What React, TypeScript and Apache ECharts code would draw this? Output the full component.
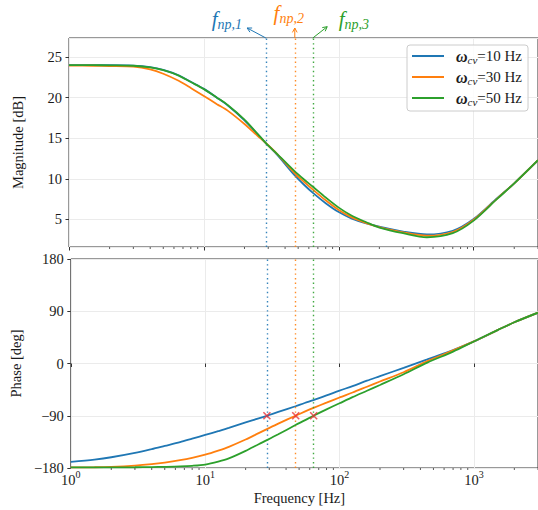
import { useEffect, useRef } from 'react';
import * as echarts from 'echarts';

const FONT = '"Liberation Serif", "Times New Roman", serif';

const freqs = [1, 1.5, 2, 3, 4, 5, 6.5, 8, 10, 12.5, 15, 20, 25, 28.8, 35, 47, 55, 64, 80, 100, 125, 160, 200, 300, 450, 700, 1000, 1500, 2000, 3000];

const magBlue = [24.0, 24.0, 24.0, 23.95, 23.76, 23.42, 22.76, 21.95, 21.08, 20.0, 19.05, 17.2, 15.5, 14.4, 12.95, 10.45, 9.3, 8.3, 7.0, 5.9, 5.1, 4.5, 4.1, 3.5, 3.15, 3.6, 5.05, 7.65, 9.45, 12.3];
const magOrange = [23.95, 23.93, 23.9, 23.82, 23.48, 22.95, 22.08, 21.2, 20.2, 19.2, 18.4, 16.75, 15.3, 14.4, 13.05, 10.7, 9.65, 8.7, 7.35, 6.15, 5.25, 4.55, 4.05, 3.4, 3.0, 3.45, 4.95, 7.6, 9.45, 12.3];
const magGreen = [24.0, 24.0, 23.98, 23.93, 23.72, 23.38, 22.72, 21.92, 21.05, 20.0, 19.1, 17.3, 15.55, 14.4, 13.05, 10.95, 9.95, 9.05, 7.7, 6.45, 5.45, 4.65, 4.0, 3.3, 2.8, 3.3, 4.85, 7.55, 9.45, 12.3];

const phBlue = [-169.5, -165.5, -161.5, -154, -147.5, -142, -135.5, -129.5, -123, -116.5, -111, -101.5, -94.5, -90, -83.5, -73.6, -68, -63, -55, -46.7, -39, -29.6, -21.8, -7.5, 7, 23, 38, 57.5, 71, 87.5];
const phOrange = [-179, -178.7, -178, -175.9, -173.4, -170.7, -166.6, -162.5, -157, -150, -143.5, -131, -120, -113, -103.5, -90, -83, -76.5, -67.5, -58.5, -50, -40, -31, -15, 4, 22.5, 38, 57.5, 71, 87.5];
const phGreen = [-179, -179, -178.9, -178.7, -178.4, -178, -177.3, -176.2, -174, -169, -163.5, -150.5, -139, -132, -122, -106, -98, -90, -79, -68.5, -58, -47, -37, -18.5, 1.5, 20.5, 38, 57.5, 71, 87.5];

const seriesNames = ['ω_cv=10 Hz', 'ω_cv=30 Hz', 'ω_cv=50 Hz'];
const colors = ['#1f77b4', '#ff7f0e', '#2ca02c'];
const fnp = [28.8, 47.2, 64.2];
const fnpPhase = [-90, -90, -90];
const fnpLabels = ['np,1', 'np,2', 'np,3'];

const majorX = [1, 10, 100, 1000];
const minorX = [2, 3, 4, 5, 6, 7, 8, 9, 20, 30, 40, 50, 60, 70, 80, 90, 200, 300, 400, 500, 600, 700, 800, 900, 2000, 3000];
const magTicks = [5, 10, 15, 20, 25];
const phaseTicks = [-180, -90, 0, 90, 180];

const magData = [magBlue, magOrange, magGreen];
const phData = [phBlue, phOrange, phGreen];

export default function App() {
  const ref = useRef<HTMLDivElement>(null);
  useEffect(() => {
    document.body.style.margin = '0';
    const chart = echarts.init(ref.current!, null, { renderer: 'svg' });
    const textColor = '#1a1a1a';
    const axisColor = '#333';
    const gridColor = '#ebebeb';
    const labelSize = 14.5;

    const xAxisBase = (gridIndex: number, showLabels: boolean) => ({
      type: 'log',
      logBase: 10,
      gridIndex,
      min: 1,
      max: 3000,
      axisLine: { show: false },
      axisTick: { show: true, length: 3.5, lineStyle: { color: axisColor, width: 1 } },
      splitLine: { show: true, lineStyle: { color: gridColor, width: 1 } },
      axisLabel: {
        show: showLabels,
        margin: 1,
        showMaxLabel: false,
        formatter: (v: number) => {
          const e = Math.log10(v);
          const r = Math.round(e);
          if (Math.abs(e - r) > 1e-6 || !majorX.includes(Math.pow(10, r))) return '';
          return `{b|10}{sup|${r}}`;
        },
        rich: {
          b: { fontFamily: FONT, fontSize: labelSize, color: textColor, lineHeight: 18, verticalAlign: 'bottom' },
          sup: { fontFamily: FONT, fontSize: 10, color: textColor, lineHeight: 8, verticalAlign: 'top' },
        },
      },
      name: showLabels ? 'Frequency [Hz]' : '',
      nameLocation: 'middle',
      nameGap: 22,
      nameTextStyle: { fontFamily: FONT, fontSize: labelSize, color: textColor, verticalAlign: 'top', padding: [0, 10, 0, 0] },
    });

    const lineSeries: any[] = [];
    for (let k = 0; k < 3; k++) {
      const mk = {
        silent: true,
        symbol: ['none', 'none'],
        label: { show: false },
        lineStyle: { type: [1.4, 3.2], color: colors[k], width: 1.4, opacity: 0.9 },
        data: [{ xAxis: fnp[k] }],
        animation: false,
      };
      lineSeries.push({
        type: 'line', name: seriesNames[k], xAxisIndex: 0, yAxisIndex: 0,
        data: freqs.map((f, i) => [f, magData[k][i]]),
        showSymbol: false, smooth: 0.3,
        lineStyle: { color: colors[k], width: 1.8 }, itemStyle: { color: colors[k] },
        markLine: mk, z: 3 + k,
      });
      lineSeries.push({
        type: 'line', name: seriesNames[k], xAxisIndex: 1, yAxisIndex: 1,
        data: freqs.map((f, i) => [f, phData[k][i]]),
        showSymbol: false, smooth: 0.3,
        lineStyle: { color: colors[k], width: 1.8 }, itemStyle: { color: colors[k] },
        markLine: mk, z: 3 + k,
      });
    }

    const minorSeries = (xi: number, yRef: number) => ({
      type: 'custom',
      xAxisIndex: xi, yAxisIndex: xi,
      silent: true,
      clip: false,
      data: minorX.map((v) => [v, yRef]),
      renderItem: (params: any, api: any) => {
        const pt = api.coord([api.value(0), api.value(1)]);
        const cs = params.coordSys;
        const yb = cs.y + cs.height;
        return {
          type: 'line',
          shape: { x1: pt[0], y1: yb, x2: pt[0], y2: yb + 2 },
          style: { stroke: axisColor, lineWidth: 0.8 },
        };
      },
      z: 10,
    });

    const legendRich = {
      w: { fontFamily: FONT, fontStyle: 'italic', fontWeight: 'bold', fontSize: 16, lineHeight: 18, verticalAlign: 'middle', color: textColor, padding: [0, 0, 0, 7] },
      s: { fontFamily: FONT, fontStyle: 'italic', fontSize: 11, lineHeight: 11, verticalAlign: 'bottom', color: textColor },
      t: { fontFamily: FONT, fontSize: 15, lineHeight: 18, verticalAlign: 'middle', color: textColor },
    };

    const option: any = {
      animation: false,
      backgroundColor: '#fff',
      grid: [
        { left: 69, top: 38, width: 469.5, height: 209, show: true, borderColor: axisColor, borderWidth: 1, backgroundColor: 'transparent' },
        { left: 69, top: 259, width: 469.5, height: 209, show: true, borderColor: axisColor, borderWidth: 1, backgroundColor: 'transparent' },
      ],
      xAxis: [xAxisBase(0, false), xAxisBase(1, true)],
      yAxis: [
        {
          type: 'value', gridIndex: 0, min: 1.6, max: 27.35, splitNumber: 5,
          axisLine: { show: false },
          axisTick: { show: true, length: 3.5, lineStyle: { color: axisColor } },
          splitLine: { show: true, lineStyle: { color: gridColor } },
          axisLabel: {
            margin: 7, fontFamily: FONT, fontSize: labelSize, color: textColor,
            showMinLabel: false, showMaxLabel: false,
            formatter: (v: number) => (magTicks.some((t) => Math.abs(t - v) < 1e-6) ? String(v) : ''),
          },
          name: 'Magnitude [dB]', nameLocation: 'middle', nameGap: 44,
          nameTextStyle: { fontFamily: FONT, fontSize: labelSize, color: textColor },
        },
        {
          type: 'value', gridIndex: 1, min: -180, max: 180, interval: 90,
          axisLine: { show: false },
          axisTick: { show: true, length: 3.5, lineStyle: { color: axisColor } },
          splitLine: { show: true, lineStyle: { color: gridColor } },
          axisLabel: {
            margin: 7, fontFamily: FONT, fontSize: labelSize, color: textColor,
            formatter: (v: number) => (phaseTicks.includes(v) ? String(v).replace('-', '\u2212') : ''),
          },
          name: 'Phase [deg]', nameLocation: 'middle', nameGap: 44,
          nameTextStyle: { fontFamily: FONT, fontSize: labelSize, color: textColor },
        },
      ],
      legend: {
        orient: 'vertical', left: 407, top: 45,
        data: seriesNames,
        icon: 'rect', itemWidth: 32, itemHeight: 2, itemGap: 4,
        padding: [3, 6, 4, 5],
        borderColor: '#cccccc', borderWidth: 1, borderRadius: 3,
        backgroundColor: 'rgba(255,255,255,0.85)',
        textStyle: { fontFamily: FONT, fontSize: 15, color: textColor, rich: legendRich },
        formatter: (name: string) => {
          const rhs = name.split('=')[1];
          return `{w|ω}{s|cv}{t|=${rhs}}`;
        },
      },
      series: [
        ...lineSeries,
        {
          type: 'scatter', xAxisIndex: 1, yAxisIndex: 1,
          data: fnp.map((f, i) => [f, fnpPhase[i]]),
          symbol: 'path://M0,0L10,10M10,0L0,10', symbolSize: 7,
          itemStyle: { color: 'rgba(0,0,0,0)', borderColor: '#e8333a', borderWidth: 1.6 },
          z: 20, silent: true,
        },
        minorSeries(0, 10),
        minorSeries(1, 0),
      ],
    };
    chart.setOption(option);

    // annotations above the top panel, positioned through the x-axis scale
    const gridTop = 38;
    const annot = [
      { dx: -39, ty: 19, hx: -18.7, hy: 28 },
      { dx: -6, ty: 13, hx: 0, hy: 28 },
      { dx: 41, ty: 19, hx: 14.4, hy: 26.7 },
    ];
    const graphics: any[] = [];
    fnp.forEach((f, k) => {
      const px = chart.convertToPixel({ xAxisIndex: 0 }, f) as unknown as number;
      const a = annot[k];
      const hx = px + a.hx, hy = a.hy;
      const ux = hx - px, uy = hy - gridTop;
      const len = Math.hypot(ux, uy);
      const nx = ux / len, ny = uy / len;
      const hl = 5, ang = (28 * Math.PI) / 180;
      const w1 = [hx - hl * (nx * Math.cos(ang) - ny * Math.sin(ang)), hy - hl * (nx * Math.sin(ang) + ny * Math.cos(ang))];
      const w2 = [hx - hl * (nx * Math.cos(-ang) - ny * Math.sin(-ang)), hy - hl * (nx * Math.sin(-ang) + ny * Math.cos(-ang))];
      graphics.push({ type: 'line', shape: { x1: px, y1: gridTop, x2: hx, y2: hy }, style: { stroke: colors[k], lineWidth: 1 }, silent: true });
      graphics.push({ type: 'polyline', shape: { points: [w1, [hx, hy], w2] }, style: { stroke: colors[k], lineWidth: 1, fill: null }, silent: true });
      graphics.push({
        type: 'text', x: px + a.dx, y: a.ty, silent: true,
        style: {
          text: `{f|f}{s|${fnpLabels[k]}}`,
          align: 'center', verticalAlign: 'middle', fill: colors[k],
          rich: {
            f: { fontFamily: FONT, fontStyle: 'italic', fontSize: 21, lineHeight: 24, verticalAlign: 'middle', fill: colors[k] },
            s: { fontFamily: FONT, fontStyle: 'italic', fontSize: 14, lineHeight: 14, verticalAlign: 'bottom', fill: colors[k] },
          },
        },
      });
    });
    chart.setOption({ graphic: graphics });

    return () => chart.dispose();
  }, []);
  return <div ref={ref} style={{ position: 'absolute', left: 0, top: 0, width: 538, height: 510 }} />;
}
